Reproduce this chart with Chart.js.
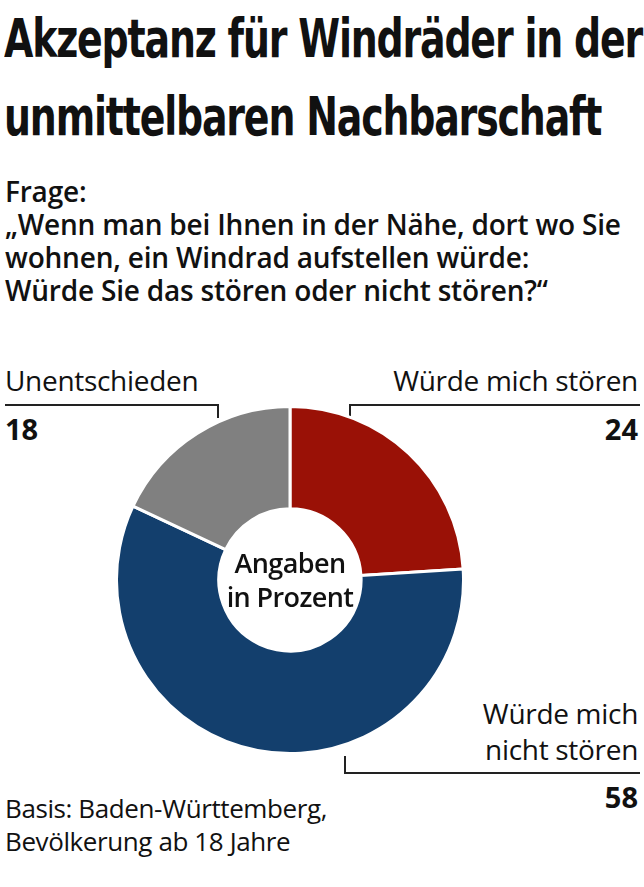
<!DOCTYPE html><html style="overflow:hidden"><head><meta charset="utf-8">
<script src="https://cdn.jsdelivr.net/npm/chart.js@4"></script>
<style>
body{margin:0;width:644px;height:887px;background:#fff;position:relative;overflow:hidden;font-family:"Open Sans","DejaVu Sans",sans-serif;color:#111}
.t{position:absolute;white-space:nowrap}
h1{position:absolute;left:4px;top:0px;margin:0;font:bold 54px/78px "DejaVu Sans Condensed","DejaVu Sans";letter-spacing:-1.5px;transform:scaleX(0.78);transform-origin:left top;white-space:nowrap}
.q{font:600 28px/33px "Open Sans";letter-spacing:-0.2px}
.l{font:28px/30px "Open Sans";letter-spacing:-0.3px}
.n{font:bold 29px/30px "Open Sans"}
.ln{position:absolute;background:#222}
</style></head><body>
<h1>Akzeptanz für Windräder in der<br>unmittelbaren Nachbarschaft</h1>
<div class="t q" style="left:5px;top:175px">Frage:<br>„Wenn man bei Ihnen in der Nähe, dort wo Sie<br>wohnen, ein Windrad aufstellen würde:<br>Würde Sie das stören oder nicht stören?“</div>
<div class="t l" id="l0" style="left:5px;top:365px"></div>
<div class="t n" id="v0" style="left:5px;top:414px"></div>
<div class="t l" id="l1" style="right:6px;top:365px;text-align:right"></div>
<div class="t n" id="v1" style="right:6px;top:414px"></div>
<div class="t l" id="l2" style="right:6px;top:695px;text-align:right;line-height:36px"></div>
<div class="t n" id="v2" style="right:6px;top:782px"></div>
<div class="ln" style="left:5px;top:404px;width:214px;height:2px"></div>
<div class="ln" style="left:217px;top:404px;width:2px;height:14px"></div>
<div class="ln" style="left:349px;top:404px;width:291px;height:2px"></div>
<div class="ln" style="left:349px;top:404px;width:2px;height:14px"></div>
<div class="ln" style="left:344px;top:772px;width:296px;height:2px"></div>
<div class="ln" style="left:344px;top:756px;width:2px;height:18px"></div>
<div style="position:absolute;left:115px;top:405px;width:350px;height:350px"><canvas id="c" width="350" height="350"></canvas></div>
<div class="t" style="left:290px;top:580px;transform:translate(-50%,-50%);text-align:center;font:600 27px/34px 'Open Sans';letter-spacing:-0.6px">Angaben<br>in Prozent</div>
<div class="t" style="left:5px;top:792px;font:26px/33px 'Open Sans';letter-spacing:-0.4px">Basis: Baden-Württemberg,<br>Bevölkerung ab 18 Jahre</div>
<script>
const categories=["Würde mich stören","Würde mich nicht stören","Unentschieden"];
const values=[24,58,18];
const colors=["#9a1106","#133f6d","#808080"];
document.getElementById("l1").textContent=categories[0];
document.getElementById("v1").textContent=values[0];
document.getElementById("l2").innerHTML="Würde mich<br>nicht stören";
document.getElementById("v2").textContent=values[1];
document.getElementById("l0").textContent=categories[2];
document.getElementById("v0").textContent=values[2];
new Chart(document.getElementById("c"),{type:"doughnut",
data:{labels:categories,datasets:[{data:values,backgroundColor:colors,borderColor:"#fff",borderWidth:3}]},
options:{responsive:false,animation:false,cutout:"41%",plugins:{legend:{display:false},tooltip:{enabled:false}},layout:{padding:0}}});
</script></body></html>
